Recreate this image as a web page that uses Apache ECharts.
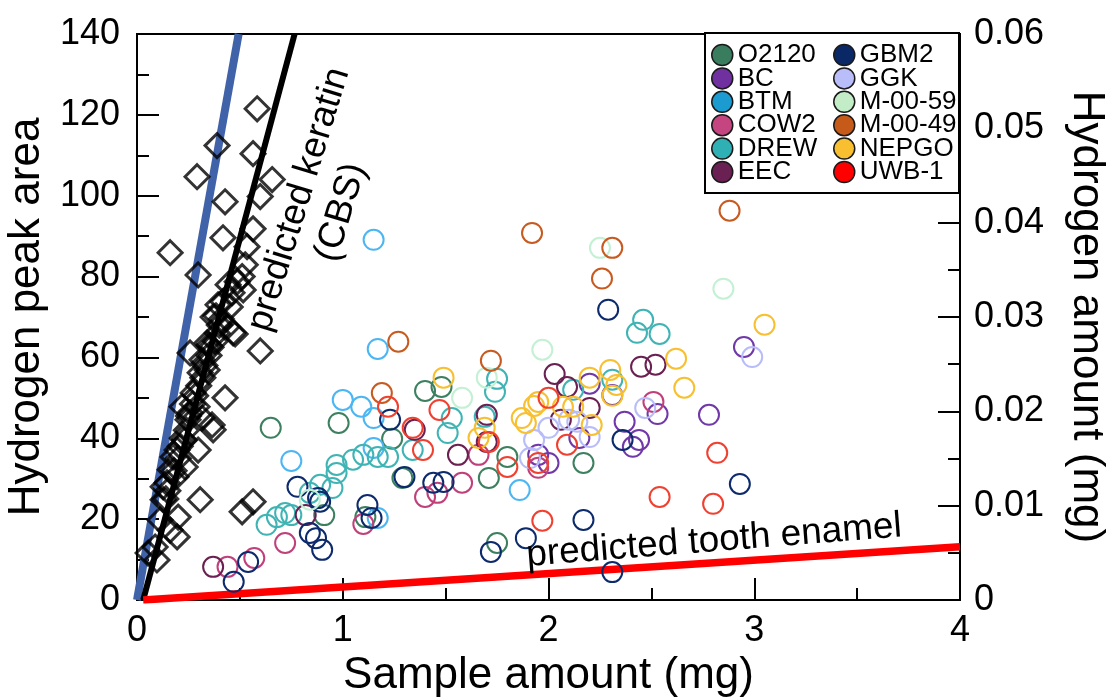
<!DOCTYPE html>
<html>
<head>
<meta charset="utf-8">
<script src="https://cdn.jsdelivr.net/npm/echarts@6/dist/echarts.min.js"></script>
<style>
  html, body { margin: 0; padding: 0; background: #fff; }
  #chart { width: 1112px; height: 698px; }
</style>
</head>
<body>
<div id="chart"></div>
<script>
// Sample groups, in legend order
const groupNames = ['O2120', 'BC', 'BTM', 'COW2', 'DREW', 'EEC', 'GBM2', 'GGK', 'M-00-59', 'M-00-49', 'NEPGO', 'UWB-1'];

// [sample amount (mg), hydrogen peak area]
const o2120 = [[0.65,42.6],[0.98,43.8],[1.24,39.9],[1.29,30.2],[1.40,51.7],[1.48,52.7],[1.11,20.5],[0.91,21.0],[1.80,35.4],[2.17,33.9],[1.71,30.2],[1.75,14.1]];
const bc = [[2.20,53.5],[2.31,50.7],[2.15,40.1],[1.95,35.9],[2.00,33.9],[2.37,44.1],[2.44,39.6],[2.41,37.9],[2.53,46.0],[2.78,45.8],[2.95,62.6]];
const btm = [[1.15,89.1],[1.17,62.1],[1.00,49.5],[1.09,47.8],[1.15,45.0],[1.15,37.6],[0.75,34.4],[1.17,20.3],[1.86,27.2]];
const cow2 = [[0.72,14.1],[1.10,18.8],[1.40,25.5],[1.46,26.5],[1.58,29.0],[1.66,35.9],[1.95,32.7],[2.51,49.0],[0.57,10.4],[0.44,8.2]];
const drew = [[1.34,37.1],[1.51,41.3],[1.53,45.0],[1.22,35.4],[1.17,35.4],[1.10,35.9],[1.05,34.7],[0.97,33.4],[0.97,31.4],[0.95,27.7],[0.89,28.5],[0.84,26.5],[0.75,21.0],[0.72,21.5],[0.68,20.5],[0.63,18.6],[1.75,54.7],[1.74,51.5],[1.69,45.3],[2.12,52.0],[2.31,54.5],[2.43,66.1],[2.46,69.3],[2.54,65.8]];
const eec = [[1.35,42.1],[1.56,35.9],[0.82,21.0],[0.37,8.2],[2.03,55.9],[2.09,52.7],[2.45,57.7],[2.52,58.2],[2.20,47.5],[2.06,44.6],[1.70,45.8],[1.70,39.1]];
const gbm2 = [[2.29,71.8],[0.78,28.0],[1.23,44.6],[0.88,25.2],[0.89,24.3],[0.84,16.6],[0.87,15.3],[0.90,12.4],[1.30,30.4],[1.12,23.5],[1.14,20.3],[1.44,29.0],[1.49,29.2],[0.54,9.4],[0.47,4.5],[2.36,39.6],[2.93,28.7],[1.72,11.9],[1.89,15.3],[2.17,19.8],[2.31,6.9]];
const ggk = [[2.99,60.1],[2.47,47.5],[2.10,44.6],[2.14,44.1],[2.00,42.6],[1.93,39.6],[2.20,40.3],[1.91,35.1]];
const m0059 = [[2.25,87.1],[2.85,77.0],[1.97,61.9],[1.70,55.0],[1.58,50.0],[0.84,24.8]];
const m0049 = [[2.88,96.3],[1.92,90.8],[2.31,87.1],[2.26,79.5],[1.27,63.9],[1.19,51.2],[1.72,59.2]];
const nepgo = [[1.49,55.0],[2.20,55.0],[2.30,56.9],[2.33,53.2],[2.31,50.5],[1.95,49.0],[1.93,48.0],[2.07,47.8],[2.12,47.8],[1.87,45.0],[1.89,43.8],[2.21,43.3],[1.69,42.6],[1.66,40.1],[2.62,59.7],[2.66,52.5],[3.05,68.1]];
const uwb1 = [[1.22,47.8],[1.47,47.0],[1.34,42.6],[1.39,37.1],[2.00,50.0],[2.09,38.4],[1.71,39.1],[1.80,32.9],[1.95,33.9],[2.82,36.4],[2.54,25.5],[2.80,23.8],[1.97,19.6]];

// keratin reference samples (diamonds)
const keratin = [[0.584,121.5],[0.389,112.4],[0.564,110.4],[0.292,104.7],[0.657,104.0],[0.599,99.8],[0.428,98.5],[0.418,89.6],[0.564,91.8],[0.535,87.4],[0.161,85.9],[0.297,80.4],[0.526,82.9],[0.511,80.0],[0.443,78.0],[0.516,76.7],[0.462,76.0],[0.394,73.0],[0.453,72.5],[0.370,70.0],[0.487,78.7],[0.418,73.8],[0.384,70.3],[0.477,65.8],[0.438,67.6],[0.599,61.6],[0.258,61.1],[0.341,63.6],[0.316,59.4],[0.307,56.2],[0.341,56.9],[0.428,50.0],[0.273,51.2],[0.292,47.8],[0.258,46.3],[0.316,45.0],[0.365,43.3],[0.467,66.1],[0.370,42.1],[0.297,37.1],[0.248,44.6],[0.219,47.8],[0.195,37.1],[0.234,32.9],[0.175,35.4],[0.161,32.2],[0.127,28.0],[0.146,29.0],[0.307,24.8],[0.511,21.8],[0.564,24.3],[0.127,24.8],[0.112,19.8],[0.200,20.5],[0.195,15.6],[0.161,17.3],[0.088,13.1],[0.097,9.9],[0.054,11.6],[0.33,58.0],[0.35,60.5],[0.36,62.5],[0.38,64.0],[0.39,66.0],[0.40,68.0],[0.41,69.5],[0.35,63.0],[0.32,55.0],[0.30,53.0],[0.285,50.5],[0.27,48.5],[0.25,45.5],[0.24,42.0],[0.22,40.0],[0.21,38.0],[0.23,39.5],[0.20,35.0],[0.18,32.0],[0.19,30.5],[0.15,27.0],[0.14,25.0]];

// predicted lines
const upperLine = [[0, 0], [0.494, 140]];
const keratinLine = [[0.03, 0], [0.766, 140]];
const enamelLine = [[0.03, 0], [4, 13.2]];

const strokeColors = ['#3d8060','#7038a8','#4cb6f2','#c0407c','#40b4b4','#6a2050','#0c2a6c','#b8bcf8','#c4f0d4','#c85a20','#f8c030','#f04030'];
const fillColors = ['#3a7d5e','#7030a0','#1c9bd1','#c4457f','#2fb0b4','#6a2052','#0a2766','#b9bdf9','#c2edc6','#c65a18','#f8c030','#ff0000'];
const groups = [o2120, bc, btm, cow2, drew, eec, gbm2, ggk, m0059, m0049, nepgo, uwb1];

const FONT = 'Liberation Sans, Arial, sans-serif';

const chart = echarts.init(document.getElementById('chart'), null, { renderer: 'canvas' });

const tickStyle = { color: '#000', width: 2 };

function legendItems(names) {
  return names.map(n => {
    const i = groupNames.indexOf(n);
    return { name: n, icon: 'circle', itemStyle: { color: fillColors[i], borderColor: '#1a1a1a', borderWidth: 1.5 } };
  });
}

const legendCommon = {
  orient: 'vertical',
  top: 42,
  padding: 0,
  itemWidth: 21,
  itemHeight: 21,
  itemGap: -2.6,
  selectedMode: false,
  textStyle: { fontFamily: FONT, fontSize: 26, color: '#000' },
  z: 10
};

const option = {
  animation: false,
  backgroundColor: '#fff',
  grid: { left: 137, right: 152, top: 34, bottom: 98, show: true, borderColor: '#000', borderWidth: 2,
    outerBoundsMode: 'none', containLabel: false },
  xAxis: {
    type: 'value', min: 0, max: 4, interval: 1,
    axisLine: { show: true, onZero: false, lineStyle: tickStyle },
    axisTick: { show: true, inside: true, length: 22, lineStyle: tickStyle },
    minorTick: { show: true, splitNumber: 2, length: 12, lineStyle: tickStyle },
    splitLine: { show: false },
    axisLabel: { fontFamily: FONT, fontSize: 36, color: '#000', margin: 13 },
    name: 'Sample amount (mg)', nameLocation: 'middle', nameGap: 40,
    nameTextStyle: { fontFamily: FONT, fontSize: 44, color: '#000' }
  },
  yAxis: [
    {
      type: 'value', min: 0, max: 140, interval: 20, position: 'left',
      axisLine: { show: true, onZero: false, lineStyle: tickStyle },
      axisTick: { show: true, inside: true, length: 22, lineStyle: tickStyle },
      minorTick: { show: true, splitNumber: 2, length: 12, lineStyle: tickStyle },
      splitLine: { show: false },
      axisLabel: { fontFamily: FONT, fontSize: 36, color: '#000', margin: 17 },
      name: 'Hydrogen peak area', nameLocation: 'middle', nameGap: 82, nameRotate: 90,
      nameTextStyle: { fontFamily: FONT, fontSize: 44, color: '#000' }
    },
    {
      type: 'value', min: 0, max: 0.06, interval: 0.01, position: 'right',
      axisLine: { show: true, onZero: false, lineStyle: tickStyle },
      axisTick: { show: true, inside: true, length: 22, lineStyle: tickStyle },
      minorTick: { show: true, splitNumber: 2, length: 12, lineStyle: tickStyle },
      splitLine: { show: false },
      axisLabel: { fontFamily: FONT, fontSize: 36, color: '#000', margin: 14,
        formatter: v => (v === 0 ? '0' : v.toFixed(2)) },
      name: 'Hydrogen amount (mg)', nameLocation: 'middle', nameGap: 104, nameRotate: -90,
      nameTextStyle: { fontFamily: FONT, fontSize: 44, color: '#000' }
    }
  ],
  legend: [
    Object.assign({}, legendCommon, { left: 711, data: legendItems(groupNames.slice(0, 6)) }),
    Object.assign({}, legendCommon, { left: 833, data: legendItems(groupNames.slice(6)) })
  ],
  graphic: [
    { type: 'rect', z: 1, shape: { x: 705, y: 33, width: 254, height: 160 },
      style: { fill: '#fff', stroke: '#000', lineWidth: 2 } },
    { type: 'text', z: 20, x: 320, y: 206, rotation: 73 * Math.PI / 180,
      style: { text: 'predicted keratin\n(CBS)', fontFamily: FONT, fontSize: 37, fill: '#000',
        align: 'center', verticalAlign: 'middle', lineHeight: 44 } },
    { type: 'text', z: 20, x: 714, y: 541, rotation: 4.5 * Math.PI / 180,
      style: { text: 'predicted tooth enamel', fontFamily: FONT, fontSize: 37, fill: '#000',
        align: 'center', verticalAlign: 'middle' } }
  ],
  series: [
    { type: 'line', data: upperLine, showSymbol: false, silent: true, z: 1,
      lineStyle: { color: '#4062a8', width: 8 } },
    { type: 'line', data: keratinLine, showSymbol: false, silent: true, z: 1,
      lineStyle: { color: '#000', width: 6 } },
    { type: 'line', data: enamelLine, showSymbol: false, silent: true, z: 1,
      lineStyle: { color: '#ff0000', width: 7.5 } },
    { type: 'scatter', name: 'keratin', data: keratin, symbol: 'diamond', symbolSize: 24, z: 3,
      itemStyle: { color: 'rgba(0,0,0,0)', borderColor: '#000', borderWidth: 3 } }
  ].concat(groupNames.map((n, i) => ({
    type: 'scatter', name: n, data: groups[i], symbol: 'circle', symbolSize: 20, z: 4,
    itemStyle: { color: 'rgba(0,0,0,0)', borderColor: strokeColors[i], borderWidth: 2, opacity: 1 }
  })))
};

chart.setOption(option);
</script>
</body>
</html>
